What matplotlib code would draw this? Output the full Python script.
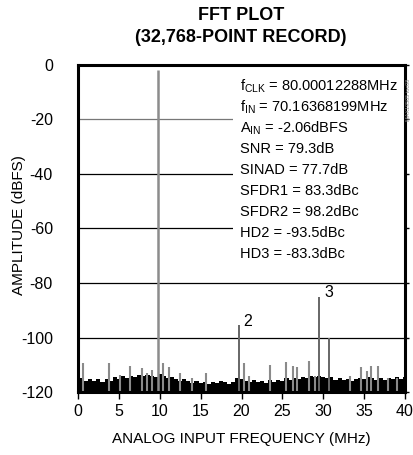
"""
FFT plot of an ADC output spectrum (32,768-point record)
"""
import matplotlib
matplotlib.use("Agg")
import matplotlib.pyplot as plt
from matplotlib.patches import Rectangle

plt.rcParams['font.family'] = ['Liberation Sans', 'DejaVu Sans']
plt.rcParams['mathtext.fontset'] = 'custom'
plt.rcParams['mathtext.rm'] = 'Liberation Sans'
plt.rcParams['axes.unicode_minus'] = False

# main tones: fundamental, HD2, HD3, next largest spur
TONE_FREQ = [9.84, 19.67, 29.51, 30.70]
TONE_LEVEL = [-1.8, -95.3, -85.3, -100.3]
HARMONIC_LABELS = ["2", "3"]

# small spurs above the noise floor (MHz, dBFS)
SPUR_FREQ = [0.57, 3.83, 5.14, 6.36, 7.79, 8.48, 9.00, 10.40, 11.10, 12.50,
             13.90, 15.66, 20.30, 20.95, 23.50, 25.50, 26.26, 26.80, 28.20,
             29.00, 33.27, 34.60, 35.30, 35.80, 36.70, 37.96, 38.98]
SPUR_LEVEL = [-109.5, -109.3, -113.8, -110.5, -111.3, -113.0, -111.9, -109.5,
              -110.9, -113.2, -114.7, -113.0, -109.5, -114.2, -110.2, -108.9,
              -110.4, -110.9, -108.7, -114.2, -114.2, -110.9, -112.4, -110.3,
              -110.3, -114.7, -114.7]

# noise floor read every 0.5 MHz
FLOOR_FREQ = [i * 0.5 for i in range(81)]
FLOOR_LEVEL = [-113.5, -115.0, -116.0, -115.2, -116.0, -115.4, -116.2, -115.3,
               -115.8, -114.6, -115.2, -114.3, -114.9, -114.0, -114.5, -113.8,
               -114.3, -113.6, -114.0, -114.4, -113.4, -114.2, -114.8, -114.5,
               -115.3, -115.8, -115.2, -116.0, -116.6, -115.9, -116.8, -116.3,
               -117.0, -116.4, -116.8, -116.0, -116.5, -116.9, -116.2, -114.8,
               -115.4, -115.8, -116.3, -115.6, -116.5, -115.9, -116.6, -115.7,
               -116.4, -115.5, -116.0, -115.0, -115.5, -114.8, -115.2, -114.5,
               -115.0, -114.2, -114.6, -114.0, -114.4, -115.0, -114.6, -115.5,
               -114.8, -115.7, -115.1, -115.9, -115.3, -114.7, -115.2, -114.5,
               -115.0, -115.6, -114.9, -115.5, -114.7, -115.3, -114.6, -115.2,
               -114.5]

X_TICKS = [0, 5, 10, 15, 20, 25, 30, 35, 40]
Y_TICKS = [0, -20, -40, -60, -80, -100, -120]

INFO_LINES = [r"f$_{\mathregular{CLK}}$ = 80.00012288MHz",
              r"f$_{\mathregular{IN}}$ = 70.16368199MHz",
              r"A$_{\mathregular{IN}}$ = -2.06dBFS",
              "SNR = 79.3dB",
              "SINAD = 77.7dB",
              "SFDR1 = 83.3dBc",
              "SFDR2 = 98.2dBc",
              "HD2 = -93.5dBc",
              "HD3 = -83.3dBc"]

fig = plt.figure(figsize=(4.13, 4.55), dpi=100)
ax = fig.add_axes([78 / 413, 63 / 455, 327 / 413, 327 / 455])

# horizontal grid
for y in Y_TICKS[1:-1]:
    ax.axhline(y, color='#777777' if y == -20 else 'black', lw=0.9, zorder=1)

# white box behind the info text
ax.add_patch(Rectangle((0.474, 0.37), 0.53, 0.63, transform=ax.transAxes,
                       facecolor='white', edgecolor='none', zorder=2))

# spectrum
ax.fill_between(FLOOR_FREQ, -120, FLOOR_LEVEL, step='mid', color='black',
                lw=0, zorder=3)
ax.vlines(SPUR_FREQ, -120, SPUR_LEVEL, color='#8a8a8a', lw=1.5, zorder=3)
ax.vlines(TONE_FREQ[0], -120, TONE_LEVEL[0], color='#8c8c8c', lw=1.8, zorder=3)
ax.vlines(TONE_FREQ[1:], -120, TONE_LEVEL[1:], color='#666666', lw=1.4,
          zorder=3)

# harmonic labels
ax.text(TONE_FREQ[1] + 0.6, TONE_LEVEL[1] - 1.5, HARMONIC_LABELS[0],
        fontsize=11.5, ha='left', va='bottom')
ax.text(TONE_FREQ[2] + 0.6, TONE_LEVEL[2] - 1.0, HARMONIC_LABELS[1],
        fontsize=11.5, ha='left', va='bottom')

for i, line in enumerate(INFO_LINES):
    ax.text(0.495, (392 - 90 - 21 * i) / 327, line, transform=ax.transAxes,
            fontsize=10.5, ha='left', va='baseline', zorder=4)

ax.set_xlim(0, 40)
ax.set_ylim(-120, 0)
ax.set_xticks(X_TICKS)
ax.set_yticks(Y_TICKS)
ax.tick_params(axis='x', direction='out', length=5, width=1, pad=4,
               labelsize=11.5)
ax.tick_params(axis='y', left=False, right=True, direction='out', length=3,
               width=1, pad=15, labelsize=11.5)
for side in ['left', 'right', 'top', 'bottom']:
    ax.spines[side].set_linewidth(2.2)
    ax.spines[side].set_zorder(5)

ax.set_xlabel('ANALOG INPUT FREQUENCY (MHz)', fontsize=11, labelpad=9)
ax.set_ylabel('AMPLITUDE (dBFS)', fontsize=11)
ax.yaxis.set_label_coords(-0.16, 0.51)

fig.text(241 / 413, 1 - 15 / 455, 'FFT PLOT', fontsize=13,
         fontweight='bold', ha='center', va='center')
fig.text(241 / 413, 1 - 38 / 455, '(32,768-POINT RECORD)', fontsize=13,
         fontweight='bold', ha='center', va='center')
fig.text(409 / 413, 1 - 100 / 455, 'MAX19505 toc08', fontsize=4,
         color='#888888', rotation=90, ha='center', va='center')

fig.savefig('out.png', dpi=100)
